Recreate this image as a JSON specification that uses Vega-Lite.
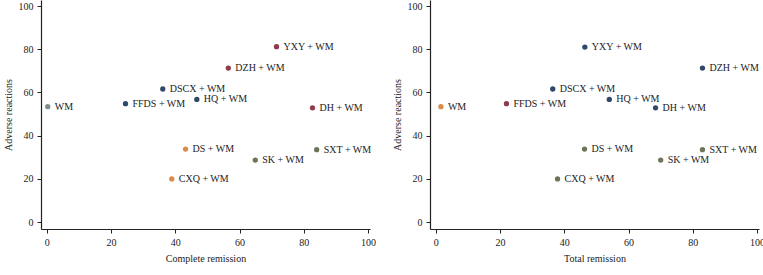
{
  "$schema": "https://vega.github.io/schema/vega-lite/v6.json",
  "padding": {"left": 3, "top": 0, "right": 0, "bottom": 5},
  "background": "white",
  "config": {
    "font": "Liberation Serif",
    "view": {"stroke": null},
    "concat": {"spacing": 16},
    "axis": {
      "labelFont": "Liberation Serif", "titleFont": "Liberation Serif",
      "labelFontSize": 10, "titleFontSize": 10, "titleFontWeight": "normal",
      "labelColor": "#222", "titleColor": "#222",
      "domainColor": "#222", "tickColor": "#222", "domainWidth": 1.2,
      "tickSize": 4, "grid": false, "labelPadding": 4
    }
  },
  "datasets": {
    "pts": [
      {"panel": "Complete", "name": "WM", "x": 0.3, "y": 53.4, "grp": "gray"},
      {"panel": "Complete", "name": "FFDS + WM", "x": 24.5, "y": 54.8, "grp": "blue"},
      {"panel": "Complete", "name": "DSCX + WM", "x": 36.1, "y": 61.6, "grp": "blue"},
      {"panel": "Complete", "name": "HQ + WM", "x": 46.7, "y": 56.8, "grp": "blue"},
      {"panel": "Complete", "name": "DZH + WM", "x": 56.5, "y": 71.3, "grp": "red"},
      {"panel": "Complete", "name": "YXY + WM", "x": 71.5, "y": 81.2, "grp": "red"},
      {"panel": "Complete", "name": "DH + WM", "x": 82.7, "y": 52.9, "grp": "red"},
      {"panel": "Complete", "name": "DS + WM", "x": 43.2, "y": 33.8, "grp": "orange"},
      {"panel": "Complete", "name": "SK + WM", "x": 64.9, "y": 28.7, "grp": "green"},
      {"panel": "Complete", "name": "SXT + WM", "x": 84.0, "y": 33.5, "grp": "green"},
      {"panel": "Complete", "name": "CXQ + WM", "x": 38.9, "y": 20.0, "grp": "orange"},
      {"panel": "Total", "name": "WM", "x": 1.6, "y": 53.4, "grp": "orange"},
      {"panel": "Total", "name": "FFDS + WM", "x": 22.0, "y": 54.8, "grp": "red"},
      {"panel": "Total", "name": "DSCX + WM", "x": 36.4, "y": 61.6, "grp": "blue"},
      {"panel": "Total", "name": "YXY + WM", "x": 46.4, "y": 81.0, "grp": "blue"},
      {"panel": "Total", "name": "HQ + WM", "x": 54.0, "y": 56.8, "grp": "blue"},
      {"panel": "Total", "name": "DH + WM", "x": 68.4, "y": 52.9, "grp": "blue"},
      {"panel": "Total", "name": "DZH + WM", "x": 83.0, "y": 71.3, "grp": "blue"},
      {"panel": "Total", "name": "DS + WM", "x": 46.3, "y": 33.8, "grp": "green"},
      {"panel": "Total", "name": "SK + WM", "x": 70.0, "y": 28.7, "grp": "green"},
      {"panel": "Total", "name": "SXT + WM", "x": 83.0, "y": 33.5, "grp": "green"},
      {"panel": "Total", "name": "CXQ + WM", "x": 37.9, "y": 20.0, "grp": "green"}
    ]
  },
  "hconcat": [
    {
      "width": 329, "height": 229,
      "data": {"name": "pts"},
      "transform": [{"filter": "datum.panel === 'Complete'"}],
      "encoding": {
        "x": {"field": "x", "type": "quantitative", "title": "Complete remission",
              "scale": {"domain": [-1.8, 100.6], "nice": false, "zero": false},
              "axis": {"values": [0, 20, 40, 60, 80, 100], "titlePadding": 6}},
        "y": {"field": "y", "type": "quantitative", "title": "Adverse reactions",
              "scale": {"domain": [-3.2, 102.8], "nice": false, "zero": false},
              "axis": {"values": [0, 20, 40, 60, 80, 100], "titlePadding": 5}},
        "color": {"field": "grp", "type": "nominal", "legend": null,
                  "scale": {"domain": ["gray", "blue", "red", "orange", "green"],
                            "range": ["#7f8f8b", "#2f4a68", "#8e3b4c", "#d98b47", "#6b7558"]}}
      },
      "layer": [
        {"mark": {"type": "point", "filled": true, "size": 28, "opacity": 1}},
        {"mark": {"type": "text", "align": "left", "baseline": "middle", "dx": 7, "fontSize": 10, "font": "Liberation Serif", "color": "#222"},
         "encoding": {"text": {"field": "name"}, "color": {"value": "#222"}}}
      ]
    },
    {
      "width": 329, "height": 229,
      "data": {"name": "pts"},
      "transform": [{"filter": "datum.panel === 'Total'"}],
      "encoding": {
        "x": {"field": "x", "type": "quantitative", "title": "Total remission",
              "scale": {"domain": [-1.8, 100.6], "nice": false, "zero": false},
              "axis": {"values": [0, 20, 40, 60, 80, 100], "titlePadding": 6}},
        "y": {"field": "y", "type": "quantitative", "title": "Adverse reactions",
              "scale": {"domain": [-3.2, 102.8], "nice": false, "zero": false},
              "axis": {"values": [0, 20, 40, 60, 80, 100], "titlePadding": 5}},
        "color": {"field": "grp", "type": "nominal", "legend": null,
                  "scale": {"domain": ["gray", "blue", "red", "orange", "green"],
                            "range": ["#7f8f8b", "#2f4a68", "#8e3b4c", "#d98b47", "#6b7558"]}}
      },
      "layer": [
        {"mark": {"type": "point", "filled": true, "size": 28, "opacity": 1}},
        {"mark": {"type": "text", "align": "left", "baseline": "middle", "dx": 7, "fontSize": 10, "font": "Liberation Serif", "color": "#222"},
         "encoding": {"text": {"field": "name"}, "color": {"value": "#222"}}}
      ]
    }
  ]
}
